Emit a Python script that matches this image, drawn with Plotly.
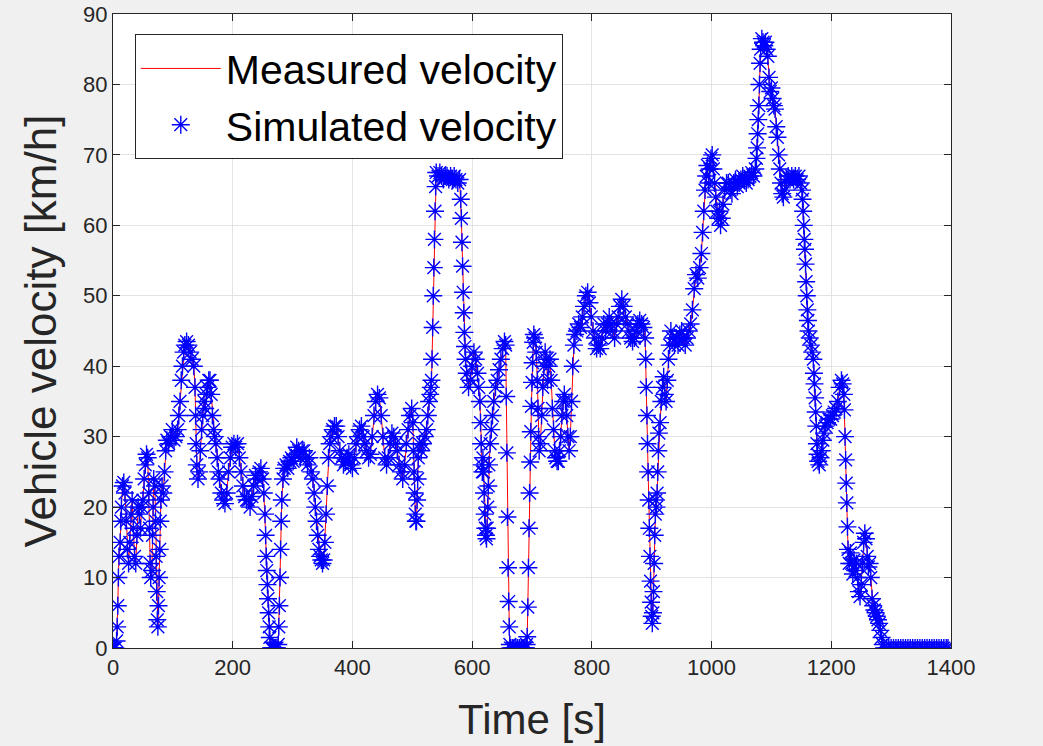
import plotly.graph_objects as go

# Time axis [s] (sampling; denser on steep transitions)
time_s = [
    0, 2, 4, 6, 7, 8, 9, 10, 12, 13,
    14, 16, 18, 20, 22, 24, 26, 28, 30, 32,
    34, 36, 38, 40, 42, 44, 46, 48, 50, 52,
    54, 56, 58, 60, 61, 62, 63, 65, 66, 67,
    68, 70, 71, 72, 73, 74, 75, 76, 77, 78,
    79, 80, 82, 84, 86, 88, 90, 93, 96, 99,
    102, 105, 108, 110, 112, 114, 116, 118, 120, 123,
    126, 129, 132, 135, 137, 138, 139, 140, 142, 144,
    146, 148, 150, 152, 154, 156, 158, 160, 162, 164,
    166, 168, 170, 172, 174, 176, 178, 181, 184, 187,
    190, 193, 196, 199, 202, 205, 208, 211, 214, 217,
    220, 223, 226, 229, 232, 235, 238, 241, 244, 247,
    250, 252, 254, 255, 256, 257, 258, 259, 260, 261,
    262, 264, 266, 268, 270, 272, 274, 276, 277, 278,
    279, 280, 281, 282, 284, 286, 289, 292, 295, 298,
    301, 304, 307, 310, 313, 316, 319, 322, 325, 328,
    331, 334, 336, 338, 340, 342, 344, 346, 348, 350,
    352, 354, 356, 358, 360, 362, 364, 367, 370, 373,
    376, 379, 382, 385, 388, 391, 394, 397, 400, 403,
    406, 409, 412, 415, 418, 421, 424, 427, 430, 433,
    436, 439, 442, 445, 448, 451, 454, 457, 460, 463,
    466, 469, 472, 475, 478, 481, 484, 487, 490, 493,
    496, 499, 501, 502, 503, 504, 505, 506, 507, 508,
    509, 510, 512, 515, 518, 521, 524, 526, 528, 530,
    531, 532, 533, 534, 535, 536, 537, 538, 539, 540,
    543, 546, 549, 552, 555, 558, 561, 564, 567, 570,
    573, 576, 579, 581, 582, 583, 584, 585, 586, 587,
    588, 589, 591, 594, 597, 600, 603, 606, 609, 611,
    613, 614, 615, 616, 617, 618, 619, 620, 621, 622,
    623, 624, 625, 626, 627, 628, 630, 632, 634, 636,
    639, 642, 645, 648, 651, 654, 656, 657, 658, 659,
    660, 661, 662, 663, 664, 667, 670, 673, 676, 679,
    682, 685, 688, 690, 691, 692, 693, 694, 695, 696,
    697, 698, 699, 700, 701, 702, 703, 705, 707, 709,
    710, 711, 712, 714, 716, 718, 720, 722, 724, 726,
    728, 730, 732, 734, 736, 738, 740, 742, 744, 746,
    748, 750, 752, 754, 756, 758, 760, 762, 764, 766,
    768, 770, 772, 775, 778, 781, 784, 787, 790, 793,
    796, 799, 802, 805, 808, 811, 814, 817, 820, 823,
    826, 829, 832, 835, 838, 841, 844, 847, 850, 853,
    856, 859, 862, 865, 868, 871, 874, 877, 880, 883,
    886, 889, 890, 891, 892, 893, 894, 895, 896, 897,
    898, 899, 900, 901, 902, 903, 904, 905, 906, 907,
    908, 909, 910, 911, 912, 914, 916, 918, 920, 922,
    924, 926, 928, 930, 932, 935, 938, 941, 944, 947,
    950, 953, 956, 959, 962, 965, 968, 971, 974, 977,
    980, 983, 985, 987, 989, 991, 993, 995, 997, 999,
    1001, 1003, 1005, 1007, 1009, 1011, 1013, 1015, 1017, 1019,
    1022, 1025, 1028, 1031, 1034, 1037, 1040, 1043, 1046, 1049,
    1052, 1055, 1058, 1061, 1064, 1067, 1070, 1073, 1075, 1076,
    1077, 1078, 1079, 1080, 1081, 1082, 1084, 1086, 1088, 1090,
    1092, 1094, 1096, 1098, 1100, 1102, 1104, 1106, 1108, 1110,
    1112, 1114, 1116, 1118, 1120, 1122, 1125, 1128, 1131, 1134,
    1137, 1140, 1143, 1146, 1149, 1151, 1152, 1153, 1154, 1155,
    1156, 1157, 1158, 1159, 1160, 1161, 1162, 1164, 1166, 1168,
    1170, 1171, 1172, 1173, 1174, 1175, 1176, 1177, 1178, 1180,
    1182, 1184, 1186, 1188, 1190, 1193, 1196, 1199, 1202, 1205,
    1208, 1211, 1214, 1217, 1219, 1221, 1222, 1223, 1224, 1225,
    1226, 1227, 1228, 1230, 1232, 1234, 1236, 1238, 1240, 1242,
    1244, 1246, 1248, 1250, 1252, 1254, 1256, 1258, 1260, 1262,
    1264, 1266, 1268, 1270, 1272, 1274, 1276, 1278, 1280, 1282,
    1284, 1286, 1288, 1292, 1296, 1300, 1304, 1308, 1312, 1316,
    1320, 1324, 1328, 1332, 1336, 1340, 1344, 1348, 1352, 1356,
    1360, 1364, 1368, 1372, 1376, 1380, 1384, 1388, 1392, 1395,
]

# Measured vehicle velocity [km/h]
measured_kmh = [
    0, 0, 0, 1, 3, 6, 10, 13, 15, 18,
    20, 23, 23.5, 22, 18, 14, 12, 15, 19, 21,
    17, 13, 12, 16, 20, 19, 17, 20, 21, 24,
    26, 27.5, 27, 22, 17, 12, 10, 11, 16, 20,
    24, 23, 18, 13, 8, 4, 3, 6, 10, 14,
    18, 21, 23, 22, 25, 28, 29.5, 29, 30, 31,
    29.5, 30, 31, 33, 35, 38, 40, 42, 43, 43.5,
    43, 42, 41, 40, 37, 33, 29, 26, 24, 25,
    28, 31, 33, 35, 34, 36, 37, 38, 38, 36,
    33, 31, 30, 29, 27, 25, 24, 22, 21, 20.5,
    22, 25, 27, 28.5, 29, 28.5, 29, 27, 25, 23,
    21.5, 21, 21, 20, 21.5, 23, 24.5, 24, 25, 25.5,
    24, 22, 19, 16, 13, 11, 9, 7, 5, 3,
    1.5, 0, 0, 0, 0, 0, 0, 0.5, 3, 6,
    10, 14, 18, 21, 24, 25.5, 26, 25.5, 26.5, 27,
    26.5, 27.5, 28.5, 28, 27, 28, 28, 27, 26, 27,
    25, 24, 22, 20, 18, 16, 14, 13, 12.5, 12,
    12.5, 15, 19, 23, 27, 29, 30, 31, 31.5, 31.5,
    30, 28, 27, 26, 26.5, 27, 27.5, 26, 25.5, 27,
    29, 30, 31, 31.5, 30, 29, 28, 27, 27.5, 30,
    33, 35, 36, 35.5, 33, 30, 27, 26, 27, 29,
    30.5, 30, 29, 28, 26, 25, 24, 26, 29, 31,
    33, 34, 32, 28, 25, 22, 19, 18, 18, 21,
    24, 27, 29, 28, 29, 30, 31, 33, 35, 36,
    37, 38, 41, 45.5, 50, 54, 58, 62, 65.5, 67.5,
    67, 67.5, 67, 66.5, 67, 67, 66.5, 67, 66.5, 67,
    66.5, 66, 66.5, 63.7, 61, 57.6, 54.2, 50.5, 47.6, 44.8,
    42.8, 41, 39, 37, 38, 40, 42, 41, 39, 37,
    35, 32, 29, 26, 25, 27, 25, 22, 19, 17,
    16, 15.5, 17, 20, 23, 26, 29, 31, 33, 35,
    37, 38, 39.5, 41, 42.5, 43.5, 43, 35.7, 27.7, 18.6,
    11.4, 6.6, 3, 0.5, 0, 0, 0, 0, 0, 0,
    0, 0, 0, 0, 0.5, 1.6, 5.8, 11.4, 17, 22,
    26.4, 30.7, 34.3, 37.7, 40.5, 43.4, 44.5, 44, 42, 38,
    34, 30, 28, 29, 33, 37, 40, 42, 41, 38,
    40, 41, 38, 34, 31, 28, 27, 26.5, 26.5, 28,
    30, 33, 35, 36, 35, 33, 30, 28, 30, 35,
    40, 43, 44.5, 45, 46, 45.5, 47, 48.5, 50, 50.5,
    49, 47, 45, 44, 42.5, 43, 42.5, 44, 46, 45,
    46, 47, 46, 45, 44, 46, 47, 48.5, 49.5, 48.5,
    47, 46, 45, 44, 43.5, 44, 45, 46, 46.5, 46,
    45.5, 44, 41, 37, 33, 29, 25, 21, 17, 13,
    9.5, 6.5, 4.5, 3.5, 5, 8, 12, 16, 19, 21,
    20, 22, 25, 28, 30.5, 32, 35, 37, 38.5, 36,
    35, 38, 41, 43, 45, 44, 43, 44, 43, 44.5,
    45, 44, 43, 44, 45, 46, 48, 51, 53, 52.5,
    54, 56, 59, 62, 65, 67, 68.5, 66, 68, 69.5,
    70, 68, 66, 64, 62, 61, 62, 60, 61, 63,
    65, 66, 66, 65, 64.5, 66, 66.5, 65.5, 66, 66.5,
    67, 66.5, 66, 66.5, 67, 67.5, 67, 68, 69.5, 71,
    73, 75, 77, 80, 83, 85, 86.5, 86, 85.5, 86,
    85, 84, 81, 79, 79.5, 78, 77, 76.5, 74, 72.5,
    70, 68, 66, 64.5, 64, 65, 66.5, 67, 66.5, 67,
    66.5, 67, 66.5, 67, 66, 65, 63.7, 62, 60, 58,
    56.6, 54.5, 52, 50, 48, 46.5, 45, 44, 43, 42,
    41, 39, 37.5, 35.5, 33.5, 31.5, 29, 27.5, 26.5, 26,
    27, 28, 29.5, 30.5, 31.5, 32, 32.5, 32.5, 33, 33.5,
    34, 35, 37, 38, 37.5, 36, 33.8, 30, 26.7, 23.4,
    20.6, 17.2, 14, 12, 13.5, 12, 10.5, 12.5, 11, 12,
    10, 8, 7.3, 9, 12, 15, 16.3, 15.5, 13, 11.5,
    12, 10, 7, 6, 5.4, 5, 4.5, 4, 3.5, 2.5,
    1.5, 0.5, 0, 0, 0, 0, 0, 0, 0, 0,
    0, 0, 0, 0, 0, 0, 0, 0, 0, 0,
    0, 0, 0, 0, 0, 0, 0, 0, 0, 0,
]

# Simulated velocity follows the measured trace (overlapping in the picture)
simulated_kmh = list(measured_kmh)

x_ticks = [0, 200, 400, 600, 800, 1000, 1200, 1400]
y_ticks = [0, 10, 20, 30, 40, 50, 60, 70, 80, 90]

FONT = "Liberation Sans, Arial, Helvetica, sans-serif"
AX = "#262626"

fig = go.Figure()
fig.add_trace(go.Scatter(
    x=time_s, y=measured_kmh, mode="lines", name="Measured velocity",
    line=dict(color="#ff0000", width=1),
))
fig.add_trace(go.Scatter(
    x=time_s, y=simulated_kmh, mode="markers", name="Simulated velocity",
    marker=dict(symbol="asterisk-open", size=15, color="#0000ff",
                line=dict(color="#0000ff", width=1.4)),
))

axis_common = dict(
    showgrid=True, gridcolor="#e3e3e3", gridwidth=1,
    showline=True, linecolor=AX, linewidth=1, mirror="ticks",
    ticks="inside", ticklen=7, tickcolor=AX, tickwidth=1,
    zeroline=False, automargin=False,
    tickfont=dict(family=FONT, size=22, color=AX),
)

fig.update_xaxes(
    range=[0, 1400], tickvals=x_ticks,
    title=dict(text="Time [s]", font=dict(family=FONT, size=42, color=AX), standoff=25),
    **axis_common,
)
fig.update_yaxes(
    range=[0, 90], tickvals=y_ticks,
    title=dict(text="Vehicle velocity [km/h]", font=dict(family=FONT, size=44, color=AX), standoff=12),
    **axis_common,
)

fig.update_layout(
    width=1043, height=746,
    margin=dict(l=113, r=92, t=14, b=98),
    paper_bgcolor="#f0f0f0", plot_bgcolor="#ffffff",
    showlegend=True,
    legend=dict(
        x=0.026, y=0.968, xanchor="left", yanchor="top",
        bgcolor="#ffffff", bordercolor=AX, borderwidth=1,
        font=dict(family=FONT, size=41, color="#000000"),
        itemwidth=80, tracegroupgap=0,
    ),
)

fig.write_html(
    "out.html",
    config={"displayModeBar": False},
    post_script="document.body.style.margin='0';document.body.style.overflow='hidden';",
)
